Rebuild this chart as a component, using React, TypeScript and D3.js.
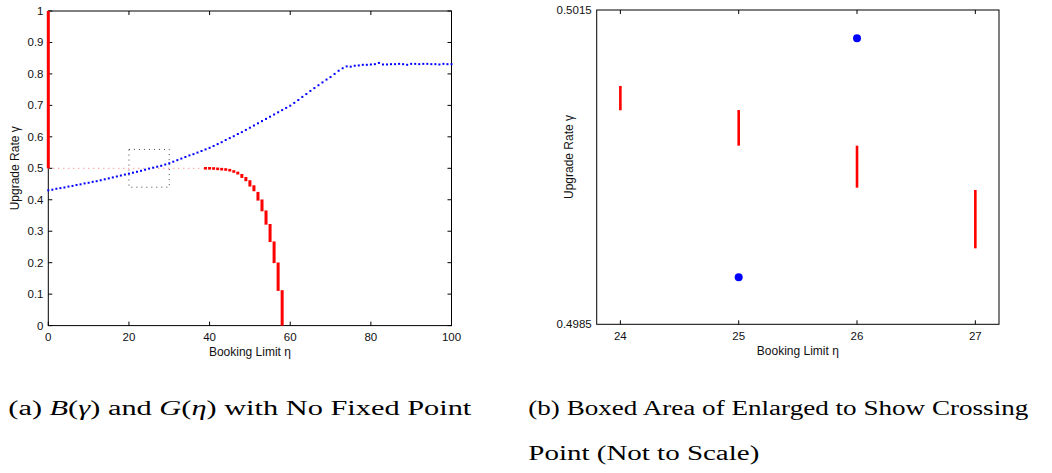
import React from "react";
import * as d3 from "d3";

// ---------- Data: panel (a) ----------
const gEta: number[] = d3.range(0, 101);
const gGamma: number[] = [
  0.430, 0.432, 0.435, 0.437, 0.439, 0.442, 0.444, 0.447, 0.449, 0.452,
  0.454, 0.457, 0.459, 0.462, 0.465, 0.468, 0.471, 0.474, 0.477, 0.480,
  0.483, 0.486, 0.489, 0.492, 0.4955, 0.499, 0.502, 0.505, 0.508, 0.512,
  0.516, 0.521, 0.526, 0.531, 0.536, 0.541, 0.545, 0.550, 0.555, 0.560,
  0.565, 0.571, 0.577, 0.583, 0.590, 0.596, 0.602, 0.609, 0.615, 0.622,
  0.629, 0.636, 0.643, 0.650, 0.657, 0.664, 0.671, 0.678, 0.685, 0.692,
  0.699, 0.708, 0.717, 0.727, 0.736, 0.746, 0.755, 0.764, 0.773, 0.782,
  0.790, 0.800, 0.810, 0.818, 0.824, 0.823, 0.826, 0.827, 0.829, 0.829,
  0.830, 0.831, 0.835, 0.830, 0.830, 0.831, 0.831, 0.832, 0.831, 0.829,
  0.832, 0.832, 0.831, 0.832, 0.832, 0.831, 0.831, 0.830, 0.832, 0.831,
  0.831,
];

const bEta: number[] = [0, 39, 40, 41, 42, 43, 44, 45, 46, 47, 48, 49, 50, 51, 52, 53, 54, 55, 56, 57, 58];
const bHigh: number[] = [1.0, 0.500, 0.500, 0.4994, 0.4983, 0.4972, 0.4962, 0.4950, 0.4936, 0.4894, 0.4820, 0.4724, 0.4620, 0.4460, 0.4250, 0.4010, 0.3660, 0.3230, 0.2675, 0.2006, 0.1126];
const bLow: number[] = [0.5, 0.500, 0.500, 0.4994, 0.4983, 0.4972, 0.4962, 0.4930, 0.4862, 0.4802, 0.4696, 0.4590, 0.4420, 0.4270, 0.3973, 0.3633, 0.3208, 0.2656, 0.1987, 0.1103, 0.0];

const indiffEta: number[] = [0, 39];
const indiffGamma = 0.5;

const boxEta: number[] = [20, 30];
const boxGamma: number[] = [0.44, 0.56];

const xTicksA: number[] = [0, 20, 40, 60, 80, 100];
const yTicksA: number[] = [0, 0.1, 0.2, 0.3, 0.4, 0.5, 0.6, 0.7, 0.8, 0.9, 1];
const yTickLabelsA: string[] = ["0", "0.1", "0.2", "0.3", "0.4", "0.5", "0.6", "0.7", "0.8", "0.9", "1"];

// ---------- Data: panel (b) ----------
const zEta: number[] = [24, 25, 26, 27];
const zHigh: number[] = [0.500775, 0.500545, 0.500205, 0.499782];
const zLow: number[] = [0.500543, 0.500205, 0.499804, 0.499225];
const zBlueEta: number[] = [25, 26];
const zBlueGamma: number[] = [0.498949, 0.50123];

const xTicksB: number[] = [24, 25, 26, 27];
const yTicksB: number[] = [0.4985, 0.5015];
const yTickLabelsB: string[] = ["0.4985", "0.5015"];

const xLabel = "Booking Limit η";
const yLabel = "Upgrade Rate γ";

const FONT = "'Liberation Sans', Arial, Helvetica, sans-serif";
const SERIF = "'Liberation Serif', 'Times New Roman', serif";

export default function App() {
  // panel (a) scales
  const xA = d3.scaleLinear().domain([0, 100]).range([48.3, 451.5]);
  const yA = d3.scaleLinear().domain([0, 1]).range([325.6, 11]);
  // panel (b) scales
  const xB = d3.scaleLinear().domain([23.8, 27.2]).range([596.7, 999]);
  const yB = d3.scaleLinear().domain([0.4985, 0.5015]).range([324.3, 10]);

  const tick = 4;
  const tickFs = 11.5;
  const labFs = 12;

  const [ax0, ax1] = xA.range();
  const [ay0, ay1] = yA.range();
  const [bx0, bx1] = xB.range();
  const [by0, by1] = yB.range();

  return (
    <svg
      width={1052}
      height={473}
      style={{ position: "absolute", left: 0, top: 0, background: "#fff" }}
      fontFamily={FONT}
    >
      <rect x={0} y={0} width={1052} height={473} fill="#fff" />

      {/* ===== Panel (a) ===== */}
      <rect x={ax0} y={ay1} width={ax1 - ax0} height={ay0 - ay1} fill="none" stroke="#000" strokeWidth={1} />
      {xTicksA.map((t) => (
        <g key={"xa" + t}>
          <line x1={xA(t)} x2={xA(t)} y1={ay0} y2={ay0 - tick} stroke="#000" />
          <line x1={xA(t)} x2={xA(t)} y1={ay1} y2={ay1 + tick} stroke="#000" />
          <text x={xA(t)} y={341} fontSize={tickFs} textAnchor="middle" fill="#111">
            {String(t)}
          </text>
        </g>
      ))}
      {yTicksA.map((t, i) => (
        <g key={"ya" + i}>
          <line x1={ax0} x2={ax0 + tick} y1={yA(t)} y2={yA(t)} stroke="#000" />
          <line x1={ax1} x2={ax1 - tick} y1={yA(t)} y2={yA(t)} stroke="#000" />
          <text x={43.5} y={yA(t) + 4} fontSize={tickFs} textAnchor="end" fill="#111">
            {yTickLabelsA[i]}
          </text>
        </g>
      ))}
      {/* indifference dotted line at gamma=0.5 */}
      <line
        x1={xA(indiffEta[0])}
        x2={xA(indiffEta[1])}
        y1={yA(indiffGamma)}
        y2={yA(indiffGamma)}
        stroke="#ff7070"
        strokeWidth={1}
        strokeDasharray="1 4"
      />
      {/* zoom box */}
      <rect
        x={xA(boxEta[0])}
        y={yA(boxGamma[1])}
        width={xA(boxEta[1]) - xA(boxEta[0])}
        height={yA(boxGamma[0]) - yA(boxGamma[1])}
        fill="none"
        stroke="#444"
        strokeWidth={1}
        strokeDasharray="1 4"
      />
      {/* B(gamma) red */}
      {bEta.map((e, i) => {
        const top = yA(bHigh[i]);
        const bot = yA(bLow[i]);
        const h = Math.max(bot - top, 2.6);
        const cy = (top + bot) / 2;
        return (
          <rect
            key={"b" + i}
            x={xA(e) - 1.5}
            y={cy - h / 2}
            width={3}
            height={h}
            fill="#ff0000"
          />
        );
      })}
      {/* G(eta) blue */}
      {gEta.map((e, i) => (
        <rect
          key={"g" + i}
          x={xA(e) - 1}
          y={yA(gGamma[i]) - 1}
          width={2}
          height={2}
          fill="#0000ff"
        />
      ))}
      <text x={(ax0 + ax1) / 2} y={355.5} fontSize={labFs} textAnchor="middle" fill="#111">
        {xLabel}
      </text>
      <text
        transform={`translate(19,${(ay0 + ay1) / 2}) rotate(-90)`}
        fontSize={labFs}
        textAnchor="middle"
        fill="#111"
      >
        {yLabel}
      </text>

      {/* ===== Panel (b) ===== */}
      <rect x={bx0} y={by1} width={bx1 - bx0} height={by0 - by1} fill="none" stroke="#000" strokeWidth={1} />
      {xTicksB.map((t) => (
        <g key={"xb" + t}>
          <line x1={xB(t)} x2={xB(t)} y1={by0} y2={by0 - tick} stroke="#000" />
          <line x1={xB(t)} x2={xB(t)} y1={by1} y2={by1 + tick} stroke="#000" />
          <text x={xB(t)} y={340} fontSize={tickFs} textAnchor="middle" fill="#111">
            {String(t)}
          </text>
        </g>
      ))}
      {yTicksB.map((t, i) => (
        <text key={"yb" + i} x={591.7} y={yB(t) + 4} fontSize={tickFs} textAnchor="end" fill="#111">
          {yTickLabelsB[i]}
        </text>
      ))}
      {zEta.map((e, i) => (
        <rect
          key={"z" + i}
          x={xB(e) - 1.3}
          y={yB(zHigh[i])}
          width={2.6}
          height={yB(zLow[i]) - yB(zHigh[i])}
          fill="#ff0000"
        />
      ))}
      {zBlueEta.map((e, i) => (
        <circle key={"zb" + i} cx={xB(e)} cy={yB(zBlueGamma[i])} r={4} fill="#0000ff" />
      ))}
      <text x={(bx0 + bx1) / 2} y={355} fontSize={labFs} textAnchor="middle" fill="#111">
        {xLabel}
      </text>
      <text
        transform={`translate(573,157) rotate(-90)`}
        fontSize={labFs}
        textAnchor="middle"
        fill="#111"
      >
        {yLabel}
      </text>

      {/* ===== Captions ===== */}
      <g fontFamily={SERIF} fontSize={20} fill="#000">
        <text x={8.3} y={415} textLength={463} lengthAdjust="spacingAndGlyphs">
          (a) <tspan fontStyle="italic">B</tspan>(<tspan fontStyle="italic">γ</tspan>) and{" "}
          <tspan fontStyle="italic">G</tspan>(<tspan fontStyle="italic">η</tspan>) with No Fixed Point
        </text>
        <text x={528.3} y={415} textLength={500} lengthAdjust="spacingAndGlyphs">
          (b) Boxed Area of Enlarged to Show Crossing
        </text>
        <text x={528.3} y={460} textLength={231} lengthAdjust="spacingAndGlyphs">
          Point (Not to Scale)
        </text>
      </g>
    </svg>
  );
}
